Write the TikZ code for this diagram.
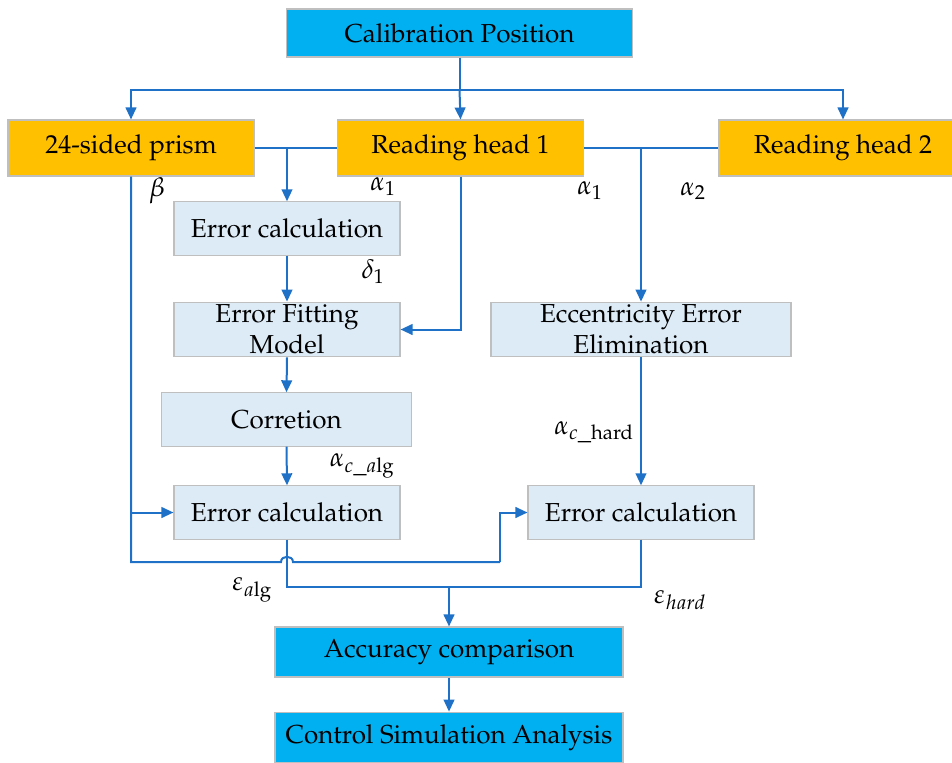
\documentclass[tikz,border=0pt]{standalone}
\usepackage[T1]{fontenc}
\usepackage{mathpazo}
\usetikzlibrary{arrows.meta}
\definecolor{headcyan}{RGB}{0,176,240}
\definecolor{headorange}{RGB}{255,192,0}
\definecolor{steplight}{RGB}{221,235,247}
\definecolor{linkblue}{RGB}{31,113,200}
\begin{document}
\begin{tikzpicture}[
  x=0.75pt, y=-0.75pt,
  every node/.style = {font=\fontsize{19.5}{23}\selectfont, align=center},
  box/.style = {draw=black!25, line width=0.8pt, inner sep=0pt},
  cyanbox/.style = {box, fill=headcyan},
  orangebox/.style = {box, fill=headorange},
  lightbox/.style = {box, fill=steplight},
  link/.style = {draw=linkblue, line width=1.5pt},
  arr/.style = {link, -{Triangle[length=9pt,width=8pt]}},
  lbl/.style = {inner sep=1pt, font=\fontsize{20}{22}\selectfont}]
  \useasboundingbox (0,0) rectangle (952,763);

  % top row
  \node[cyanbox, minimum width=260pt, minimum height=36pt] (calib) at (459.5,33) {Calibration Position};
  \node[orangebox, minimum width=184.5pt, minimum height=42pt] (prism) at (131,148) {24-sided prism};
  \node[orangebox, minimum width=185pt, minimum height=42pt] (rh1) at (460.5,148) {Reading head 1};
  \node[orangebox, minimum width=186pt, minimum height=42pt] (rh2) at (843,148) {Reading head 2};

  % left branch
  \node[lightbox, minimum width=169.5pt, minimum height=40pt] (ec1) at (287,228.5) {Error calculation};
  \node[lightbox, minimum width=169.5pt, minimum height=41pt] (efm) at (287,329.5) {Error Fitting\\Model};
  \node[lightbox, minimum width=187pt, minimum height=40pt] (corr) at (286.5,419.5) {Corretion};
  \node[lightbox, minimum width=169.5pt, minimum height=40pt] (ec3) at (287,512.5) {Error calculation};

  % right branch
  \node[lightbox, minimum width=225pt, minimum height=41pt] (ecc) at (641,329.5) {Eccentricity Error\\Elimination};
  \node[lightbox, minimum width=169.5pt, minimum height=40pt] (ec4) at (641,512.5) {Error calculation};

  % bottom
  \node[cyanbox, minimum width=261pt, minimum height=37.5pt] (acc) at (449,652) {Accuracy comparison};
  \node[cyanbox, minimum width=261pt, minimum height=38pt] (ctrl) at (449,737.5) {Control Simulation Analysis};

  % labels
  \node[lbl] (beta) at (157,191) {$\beta$};
  \node[lbl] (a1l) at (383,187) {$\alpha_1$};
  \node[lbl] (a1r) at (590,191) {$\alpha_1$};
  \node[lbl] (a2) at (693,191) {$\alpha_2$};
  \node[lbl] (d1) at (373,272) {$\delta_1$};
  \node[lbl] (acalg) at (362,466) {$\alpha_{c\_a\mathrm{lg}}$};
  \node[lbl] (achard) at (594,432) {$\alpha_{c\_\mathrm{hard}}$};
  \node[lbl] (ealg) at (252,590) {$\varepsilon_{a\mathrm{lg}}$};
  \node[lbl] (ehard) at (680,600) {$\varepsilon_{hard}$};

  \coordinate (bus) at (459.5,90);
  \coordinate (lowL) at (131,562);
  \coordinate (lowR) at (500,562);
  \coordinate (merge) at (449,587);

  % connectors
  \draw[link] (calib.south) -- (bus);
  \draw[arr] (bus) -| (prism.north);
  \draw[arr] (bus) -- (rh1.north);
  \draw[arr] (bus) -| (rh2.north);

  \draw[link] (prism.east) -- (rh1.west);
  \draw[arr] (prism.east -| ec1.north) -- (ec1.north);
  \draw[link] (rh1.east) -- (rh2.west);
  \draw[arr] (rh1.east -| ecc.north) -- (ecc.north);

  \draw[arr] (ec1.south) -- (efm.north);
  \draw[arr] (rh1.south) |- (efm.east);
  \draw[arr] (efm.south) -- (corr.north);
  \draw[arr] (corr.south) -- (ec3.north);
  \draw[arr] (ecc.south) -- (ec4.north);

  \draw[arr] (prism.south) |- (ec3.west);
  \draw[link] (prism.south) -- (lowL) -- (281,562)
    .. controls (281,555) and (293,555) .. (293,562) -- (lowR);
  \draw[arr] (lowR) |- (ec4.west);

  \draw[link] (ec3.south) |- (merge);
  \draw[link] (ec4.south) |- (merge);
  \draw[arr] (merge) -- (acc.north);
  \draw[arr] (acc.south) -- (ctrl.north);
\end{tikzpicture}
\end{document}
